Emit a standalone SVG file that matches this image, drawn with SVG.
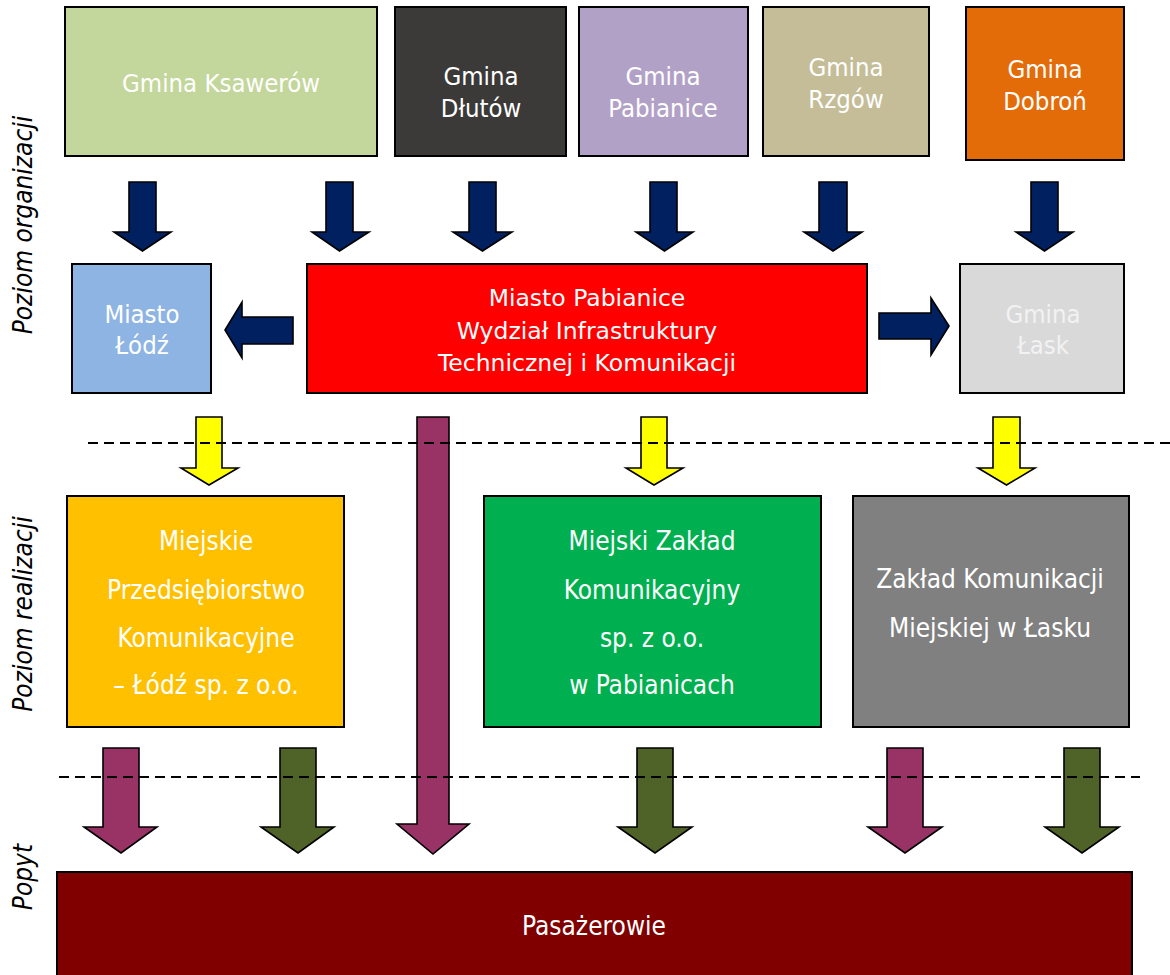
<svg xmlns="http://www.w3.org/2000/svg" width="1170" height="975" viewBox="0 0 1170 975">
<style>
.box{stroke:#000;stroke-width:2}
.t{font-family:"DejaVu Sans Condensed","DejaVu Sans",sans-serif;font-stretch:condensed;font-size:25.5px;fill:#fff;text-anchor:middle}
.t26{font-size:26px}
.tr{font-family:"DejaVu Sans",sans-serif;font-size:23.5px;fill:#fff;text-anchor:middle}
.lbl{font-family:"DejaVu Sans Condensed","DejaVu Sans",sans-serif;font-stretch:condensed;font-style:italic;font-size:26px;fill:#000;text-anchor:middle}
.arr{stroke:#000;stroke-width:1.6;stroke-linejoin:miter}
.navy{fill:#002060}.yel{fill:#ffff00}.pur{fill:#993366}.grn{fill:#4f6228}
.dash{stroke:#000;stroke-width:1.8;stroke-dasharray:10 6;fill:none}
</style>
<rect width="1170" height="975" fill="#fff"/>

<g id="labels">
<text class="lbl" transform="translate(32,225) rotate(-90)">Poziom organizacji</text>
<text class="lbl" transform="translate(32,614) rotate(-90)">Poziom realizacji</text>
<text class="lbl" transform="translate(32,877) rotate(-90)">Popyt</text>
</g>

<g id="n-ksawerow"><rect class="box" x="65" y="7" width="312" height="149" fill="#c3d69b"/><text class="t" x="221" y="92">Gmina Ksawerów</text></g>
<g id="n-dlutow"><rect class="box" x="395" y="7" width="171" height="149" fill="#3b3a38"/><text class="t" x="481" y="85">Gmina</text><text class="t" x="481" y="117">Dłutów</text></g>
<g id="n-pabianice"><rect class="box" x="579" y="7" width="169" height="149" fill="#b2a1c7"/><text class="t" x="663" y="85">Gmina</text><text class="t" x="663" y="117">Pabianice</text></g>
<g id="n-rzgow"><rect class="box" x="763" y="7" width="166" height="149" fill="#c4bd97"/><text class="t" x="846" y="76">Gmina</text><text class="t" x="846" y="108">Rzgów</text></g>
<g id="n-dobron"><rect class="box" x="966" y="7" width="158" height="153" fill="#e36c09"/><text class="t" x="1045" y="78">Gmina</text><text class="t" x="1045" y="110">Dobroń</text></g>

<g id="n-lodz"><rect class="box" x="72" y="264" width="139" height="129" fill="#8eb4e3"/><text class="t" x="142" y="323">Miasto</text><text class="t" x="142" y="354">Łódź</text></g>
<g id="n-wydzial"><rect class="box" x="307" y="264" width="560" height="129" fill="#ff0000"/><text class="tr" x="587" y="306">Miasto Pabianice</text><text class="tr" x="587" y="339">Wydział Infrastruktury</text><text class="tr" x="587" y="371">Technicznej i Komunikacji</text></g>
<g id="n-lask"><rect class="box" x="960" y="264" width="164" height="129" fill="#d9d9d9"/><text class="t" x="1043" y="323" style="fill:#f2f2f2">Gmina</text><text class="t" x="1043" y="354" style="fill:#f2f2f2">Łask</text></g>

<g id="n-mpk"><rect class="box" x="67" y="496" width="277" height="231" fill="#ffc000"/>
<text class="t t26" x="206" y="550">Miejskie</text><text class="t t26" x="206" y="599">Przedsiębiorstwo</text><text class="t t26" x="206" y="647">Komunikacyjne</text><text class="t t26" x="206" y="694">– Łódź sp. z o.o.</text></g>
<g id="n-mzk"><rect class="box" x="484" y="496" width="337" height="231" fill="#00b050"/>
<text class="t t26" x="652" y="550">Miejski Zakład</text><text class="t t26" x="652" y="599">Komunikacyjny</text><text class="t t26" x="652" y="647">sp. z o.o.</text><text class="t t26" x="652" y="694">w Pabianicach</text></g>
<g id="n-zkm"><rect class="box" x="853" y="496" width="276" height="231" fill="#808080"/>
<text class="t t26" x="990" y="588">Zakład Komunikacji</text><text class="t t26" x="990" y="637">Miejskiej w Łasku</text></g>

<g id="n-pasazerowie"><rect class="box" x="57" y="872" width="1075" height="108" fill="#800000"/><text class="t" x="594" y="935" style="font-size:26px">Pasażerowie</text></g>

<g id="connectors">
<path class="arr navy" d="M129,182H156V232H171L142.5,251L114,232H129Z"/>
<path class="arr navy" d="M326,182H353V232H369L339.5,251L312,232H326Z"/>
<path class="arr navy" d="M469,182H496V232H512L482.5,251L453,232H469Z"/>
<path class="arr navy" d="M650,182H677V232H693L664.5,251L636,232H650Z"/>
<path class="arr navy" d="M819,182H847V232H862L833,251L804,232H819Z"/>
<path class="arr navy" d="M1031,182H1058V232H1073L1044.5,251L1016,232H1031Z"/>
<path class="arr navy" d="M293,317V344H242V358L225,330L242,302V317Z"/>
<path class="arr navy" d="M879,313V339H931V355L949,326L931,298V313Z"/>
<path class="arr yel" d="M196,417H222V468H238L209,485L181,468H196Z"/>
<path class="arr yel" d="M641,417H667V468H683L654,485L626,468H641Z"/>
<path class="arr yel" d="M993,417H1020V468H1035L1006.5,485L978,468H993Z"/>
<path class="arr pur" d="M417,417H449V824H469L433,854L397,824H417Z"/>
<path class="arr pur" d="M103,748H139V827H157L121,853L84,827H103Z"/>
<path class="arr grn" d="M280,748H316V827H334L298,853L261,827H280Z"/>
<path class="arr grn" d="M637,748H673V827H692L655,853L618,827H637Z"/>
<path class="arr pur" d="M887,748H923V827H942L905,853L868,827H887Z"/>
<path class="arr grn" d="M1064,748H1100V827H1119L1082,853L1045,827H1064Z"/>
<line class="dash" x1="88" y1="443" x2="1170" y2="443"/>
<line class="dash" x1="59" y1="777" x2="1140" y2="777"/>
</g>
</svg>
